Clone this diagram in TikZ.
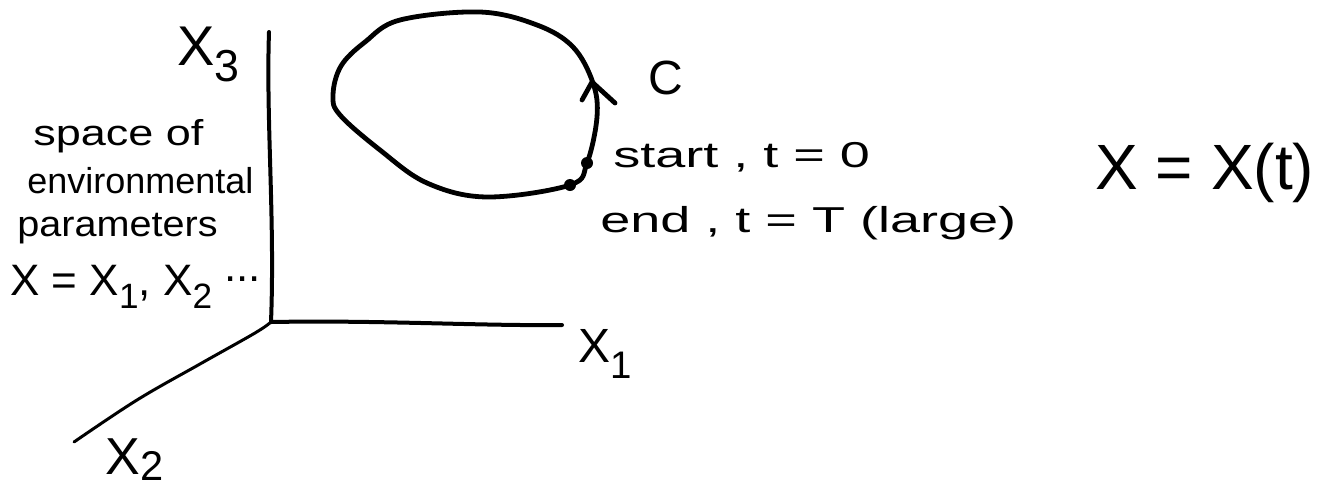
\documentclass[tikz,border=0pt]{standalone}
\usepackage{fontspec}
\setmainfont{Liberation Sans}
\newcommand\lo[2][0.3em]{\raisebox{-#1}{\scalebox{0.8}{#2}}}
\tikzset{
  ink/.style={line width=2.4pt, line cap=round, line join=round},
  axisline/.style={line width=2pt, line cap=round, line join=round},
  hand/.style={inner sep=0pt, anchor=base west, font=\fontsize{18}{22}\selectfont},
  biglabel/.style={inner sep=0pt, anchor=base west},
  dot/.style={circle, fill=black, inner sep=0pt, minimum size=6pt}
}
\begin{document}
\begin{tikzpicture}[x=0.5pt,y=-0.5pt]
\useasboundingbox (0,0) rectangle (1326,488);
\fill[white] (0,0) rectangle (1326,488);

% axes
\coordinate (O) at (271,322);
\coordinate (x3end) at (269,32);
\coordinate (x1end) at (562,325);
\coordinate (x2end) at (74,442);
\draw[axisline] (O) .. controls (275,220) and (266,120) .. (x3end);
\draw[axisline] (O) .. controls (380,320) and (480,326) .. (x1end);
\draw[axisline, line width=1.5pt] plot[smooth, tension=0.6] coordinates {(O) (255,333) (200,364) (137,400) (x2end)};

% axis labels
\node[biglabel, font=\fontsize{28}{32}\selectfont] (lx3) at (177,65) {X\lo{3}};
\node[biglabel, font=\fontsize{24}{28}\selectfont] (lx1) at (578,362) {X\lo[0.35em]{1}};
\node[biglabel, font=\fontsize{26}{30}\selectfont] (lx2) at (105,474) {X\lo[0.12em]{2}};

% left text
\node[hand] (t1) at (33,145) {\scalebox{1.25}[1]{space of}};
\node[hand] (t2) at (27,193) {environmental};
\node[hand] (t3) at (17,236) {\scalebox{1.1}[1]{parameters}};
\node[hand, font=\fontsize{22}{26}\selectfont] (t4) at (10,295) {X = X\lo{1}, X\lo{2} \raisebox{0.3em}{...}};

% closed curve C
\draw[ink] plot[smooth cycle, tension=0.6] coordinates {
  (593,83) (597,117) (587,163) (570,185) (487,197) (427,183) (380,150)
  (340,115) (333,95) (341,66) (365,42) (400,20) (480,12) (537,25) (573,47)};
% arrowhead on the curve
\coordinate (atip) at (592,82);
\coordinate (abl) at (582,100);
\coordinate (abr) at (615,103);
\draw[ink] (abl) -- (atip) -- (abr);
% start / end points
\node[dot] (ps) at (587,163) {};
\node[dot] (pe) at (570,185) {};

\node[biglabel, font=\fontsize{24}{28}\selectfont, anchor=center] (lc) at (666,78) {C};
\node[hand] (lstart) at (613,167) {\scalebox{1.5}[1]{start , t = 0}};
\node[hand] (lend) at (600,232) {\scalebox{1.5}[1]{end , t = T (large)}};
\node[biglabel, font=\fontsize{32}{36}\selectfont] (lxt) at (1095,189) {X = X(t)};
\end{tikzpicture}
\end{document}
